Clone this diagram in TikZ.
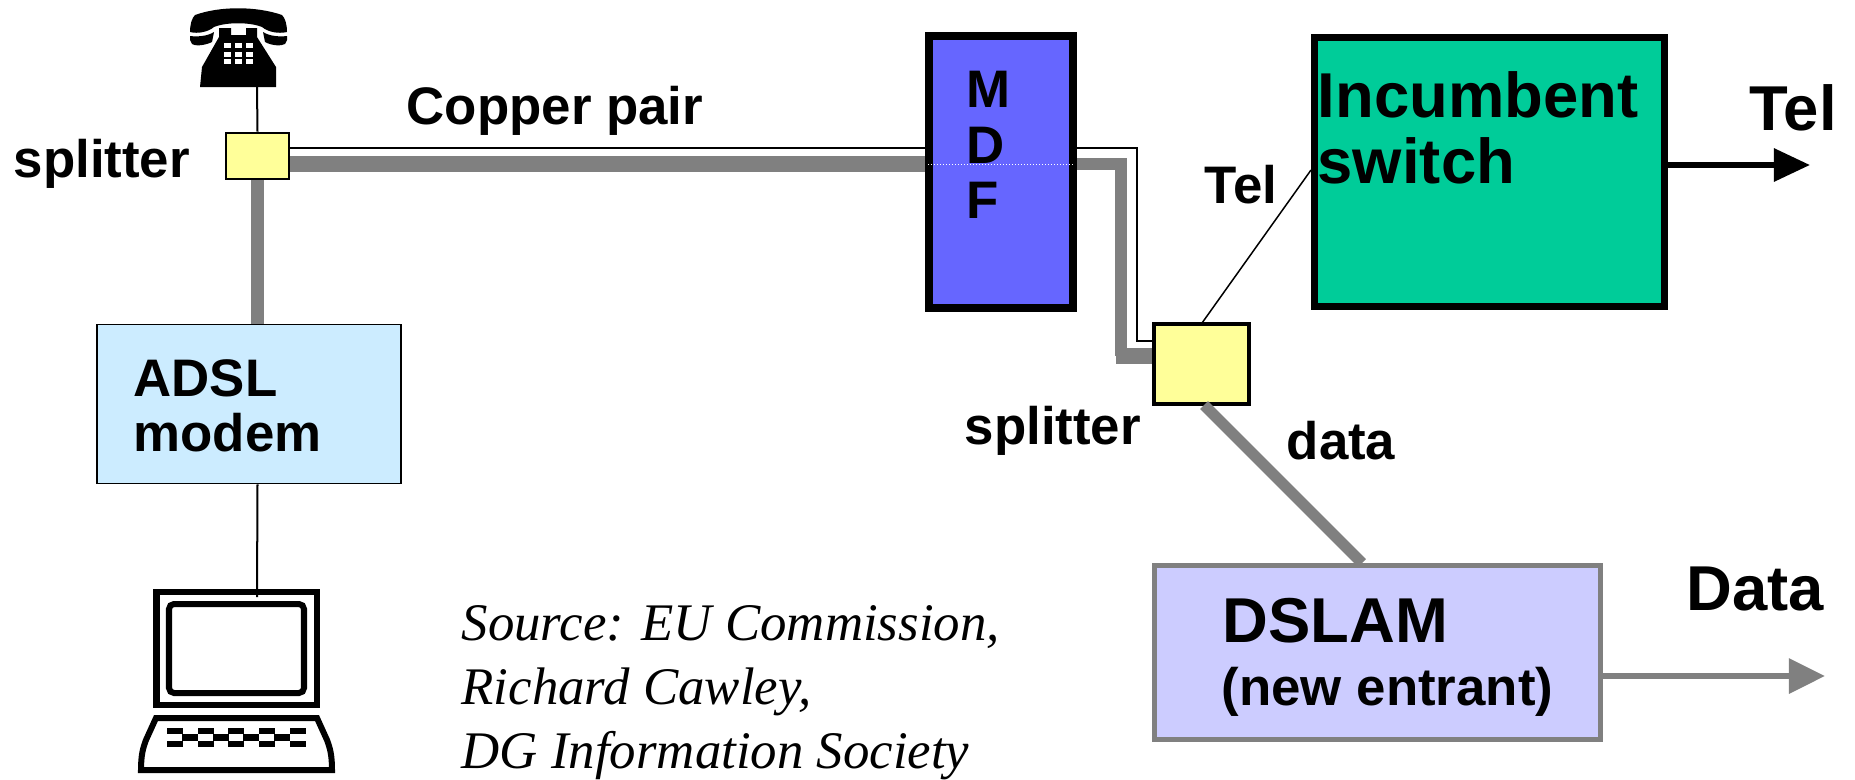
\documentclass[tikz,border=0pt]{standalone}
\usepackage{fontspec}
\setmainfont{Liberation Sans}
\newfontfamily\srcfont{Liberation Serif}
\usetikzlibrary{arrows.meta}
\definecolor{cable}{HTML}{808080}
\definecolor{splitfill}{HTML}{FFFF99}
\definecolor{modemfill}{HTML}{CCECFF}
\definecolor{mdffill}{HTML}{6666FF}
\definecolor{switchfill}{HTML}{00CC99}
\definecolor{dslamfill}{HTML}{CCCCFF}
\begin{document}
\begin{tikzpicture}[x=0.00998cm,y=-0.00998cm,
  lbl/.style={anchor=base west,inner sep=0pt,font=\bfseries\fontsize{15}{18}\selectfont},
  biglbl/.style={lbl,font=\bfseries\fontsize{18}{22}\selectfont},
  srclbl/.style={anchor=base west,inner sep=0pt,font=\srcfont\itshape\fontsize{15}{18}\selectfont},
  box/.style={draw,rectangle,inner sep=0pt},
  pair/.style={line width=.15mm},
  thick pair/.style={draw=cable,line width=1.2mm},
  blk/.style={line width=.6mm,line join=miter}]
\useasboundingbox(0,0)rectangle(1855,779);
\node[box,fill=splitfill,line width=.25mm,minimum width=.63cm,minimum height=.46cm](split1)at(257.5,156){};
\node[box,fill=splitfill,line width=.35mm,minimum width=.95cm,minimum height=.8cm](split2)at(1201.5,364){};
\node[box,fill=modemfill,line width=.15mm,minimum width=3.03cm,minimum height=1.59cm](modem)at(249,404){};
\node[box,fill=mdffill,line width=.8mm,minimum width=1.44cm,minimum height=2.71cm](mdf)at(1001,172){};
\node[box,fill=switchfill,line width=.7mm,minimum width=3.49cm,minimum height=2.69cm](switch)at(1489.5,172){};
\node[box,draw=cable,fill=dslamfill,line width=.5mm,minimum width=4.45cm,minimum height=1.73cm](dslam)at(1377.5,652.5){};
\coordinate(phonebase)at(257,87);
\coordinate(pcin)at(257,597);
\coordinate(telout)at(1810,165);
\coordinate(dataout)at(1825,676);
\coordinate(thina)at(290,148);
\coordinate(thinb)at(1137,148);
\coordinate(thinc)at(1137,341);
\coordinate(grosa)at(290,164);
\coordinate(grosb)at(1121,164);
\coordinate(grosc)at(1121,356);
\coordinate(tela)at(1202,323);
\coordinate(telb)at(1311,170);
\coordinate(dataa)at(1204,405);
\coordinate(datab)at(1362,563);
\draw[thick pair,line width=1.6mm](split1.east|-grosa)--(mdf.west|-grosa);
\draw[draw=cable,line width=1.2mm](mdf.east|-grosb)--(grosb)--(grosc);
\draw[thick pair,line width=1.5mm](1116,356)--(split2.west|-grosc);
\draw[pair](split1.east|-thina)--(mdf.west|-thina);
\draw[pair](mdf.east|-thinb)--(thinb)--(thinc)--(split2.west|-thinc);
\draw[pair,line width=.2mm](phonebase)--(split1.north);
\draw[thick pair](split1.south)--(modem.north-|split1.south);
\draw[pair,line width=.2mm](modem.south-|split1.south)--(pcin);
\draw[pair](tela)--(telb);
\draw[thick pair,line width=1.1mm](dataa)--(datab);
\draw[line width=.6mm,-{Triangle[length=3.6mm,width=3.2mm]}](switch.east|-telout)--(telout);
\draw[draw=cable,line width=.6mm,-{Triangle[length=3.6mm,width=3.4mm]},cable](dslam.east|-dataout)--(dataout);
\draw[white,line width=.1mm,dash pattern=on .1mm off .2mm](928,164)--(1075,164);
\fill(190,32)..controls(190,24)and(192,18)..(195,15)..controls(220,6)and(256,6)..(282,15)..controls(285,18)and(287,24)..(287,32)..controls(278,34)and(268,32)..(262,27)..controls(250,22)and(226,22)..(214,27)..controls(208,32)and(198,34)..(190,32)--cycle;
\fill(190,36)..controls(198,37)and(208,36)..(214,32)--(212,42)..controls(204,46)and(194,46)..(192,44)--(190,40)--cycle;
\fill(287,36)..controls(279,37)and(269,36)..(263,32)--(265,42)..controls(272,46)and(282,46)..(285,44)--(287,40)--cycle;
\fill(200,87)--(276,87)--(276,67)--(257,37)--(257,28)--(246,28)--(246,35)--(231,35)--(231,28)--(219,28)--(219,37)--(202,67)--cycle;
\foreach \kx in {224,235,246}
  \foreach \ky in {43,52,59}
    \fill[white](\kx,\ky)rectangle+(7,4.5);
\draw[blk](156.5,591.5)rectangle(317,705);
\draw[blk,rounded corners=.05cm](169,604)rectangle(304,693);
\draw[blk](156,718)--(317,718)--(327,740)..controls(330,748)and(332,755)..(332,770)--(141,770)..controls(141,755)and(143,748)..(146,740)--cycle;
\foreach \kx in {167,198,228,259,290}{
  \fill(\kx,728)rectangle+(15.5,6);
  \fill(\kx,741)rectangle+(15.5,6);
}
\foreach \kx in {182,213,243,274}
  \fill(\kx,734)rectangle+(16,7);
\node[lbl](splitlbl)at(13,177){splitter};
\node[lbl](copperlbl)at(406,124){Copper pair};
\node[lbl](mlbl)at(966,107){M};
\node[lbl](dlbl)at(966,163){D};
\node[lbl](flbl)at(966,218){F};
\node[biglbl](inclbl)at(1317,117){Incumbent};
\node[biglbl](swlbl)at(1317,183){switch};
\node[biglbl](tellbl)at(1749,130){Tel};
\node[lbl](telmid)at(1204,203){Tel};
\node[lbl](split2lbl)at(964,444){splitter};
\node[lbl](datamid)at(1286,459){data};
\node[lbl](adsllbl)at(133,396){ADSL};
\node[lbl](modemlbl)at(133,451){modem};
\node[biglbl](dslamlbl)at(1222,642){DSLAM};
\node[lbl](entrantlbl)at(1221,705){(new entrant)};
\node[biglbl](datalbl)at(1686,610){Data};
\node[srclbl](srca)at(461,640){Source: EU Commission,};
\node[srclbl](srcb)at(461,704){Richard Cawley,};
\node[srclbl](srcc)at(461,768){DG Information Society};
\end{tikzpicture}
\end{document}
